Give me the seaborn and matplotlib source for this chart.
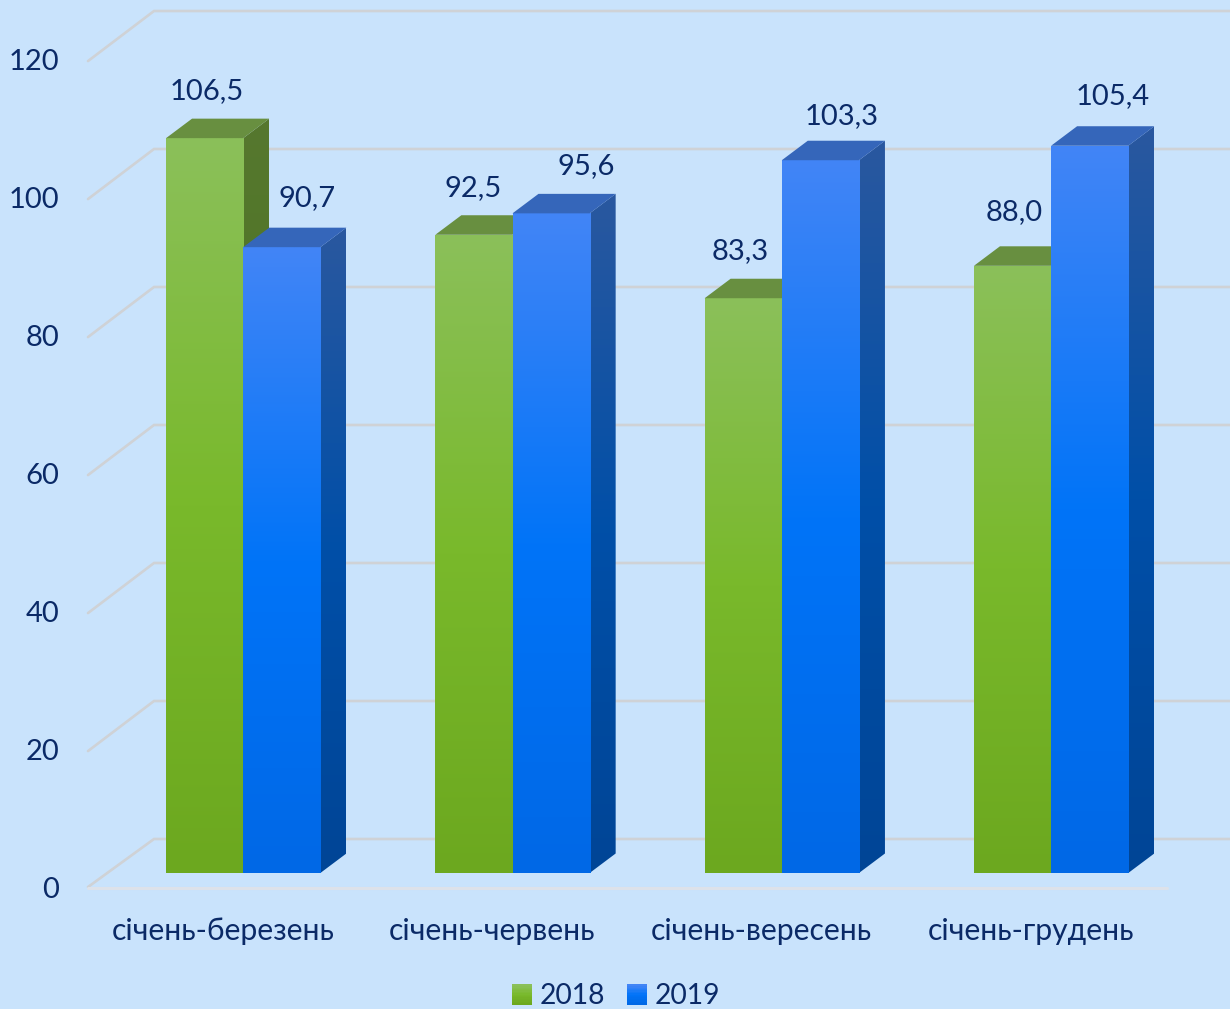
import numpy as np
import pandas as pd
import matplotlib
matplotlib.use("Agg")
import matplotlib.pyplot as plt
import seaborn as sns
from matplotlib.colors import LinearSegmentedColormap
from matplotlib.legend_handler import HandlerBase
from matplotlib.patches import Patch, Polygon, Rectangle
from matplotlib.transforms import ScaledTranslation

# DATA
periods = ["січень-березень", "січень-червень", "січень-вересень", "січень-грудень"]
years = ["2018", "2019"]
values_2018 = [106.5, 92.5, 83.3, 88.0]
values_2019 = [90.7, 95.6, 103.3, 105.4]
y_ticks = [0, 20, 40, 60, 80, 100, 120]

df = pd.DataFrame({
    "period": periods * 2,
    "year": [years[0]] * 4 + [years[1]] * 4,
    "value": values_2018 + values_2019,
})

# COLOURS
BG = "#C9E3FC"
TEXT = "#0B2A67"
GRID = "#CFD2D6"
FLOOR = "#DDE2EA"
front_cmaps = {
    "2018": LinearSegmentedColormap.from_list("g", ["#6CA81F", "#79B92B", "#8BC05A"]),
    "2019": LinearSegmentedColormap.from_list("b", ["#0068E6", "#0174F8", "#4285F6"]),
}
side_cmaps = {
    "2018": LinearSegmentedColormap.from_list("gs", ["#43691A", "#4C7420", "#56782F"]),
    "2019": LinearSegmentedColormap.from_list("bs", ["#004596", "#004FA8", "#2A589F"]),
}
top_colors = {"2018": "#688F40", "2019": "#3566BA"}

# LAYOUT (pixels of the 1230x1009 picture)
W, H = 1230, 1009
PX_CAT = 269.3
PX_UNIT = 6.9
base_px = 873
center_px = 243.2
left_px = center_px - PX_CAT / 2

sns.set_theme(style="white")
plt.rcParams["font.family"] = ["Lato", "Open Sans", "DejaVu Sans"]

fig = plt.figure(figsize=(W / 100, H / 100), dpi=100, facecolor=BG)
ax = fig.add_axes([left_px / W, 1 - base_px / H, 4 * PX_CAT / W, 120 * PX_UNIT / H])
ax.set_facecolor("none")

sns.barplot(data=df, x="period", y="value", hue="year", hue_order=years,
            palette=["#79B92B", "#0174F8"], width=0.573, gap=0, dodge=True,
            saturation=1, legend=False, ax=ax, zorder=5)

xlim, ylim = (-0.5, 3.5), (0, 120)
dx = 26 / PX_CAT
dy = 19.5 / PX_UNIT
v_grad = np.linspace(1, 0, 256).reshape(-1, 1)


def gradient(cmap, x0, x1, y0, y1, clip, z):
    im = ax.imshow(v_grad, cmap=cmap, vmin=0, vmax=1, extent=(x0, x1, y0, y1),
                   aspect="auto", zorder=z, interpolation="bilinear")
    im.set_clip_path(clip)
    im.set_clip_on(True)


# WALLS AND FLOOR
x_back = (154 - center_px) / PX_CAT
x_front = (88 - center_px) / PX_CAT
x_end = (1231 - center_px) / PX_CAT
x_floor_end = (1167 - center_px) / PX_CAT
off_back = (base_px - 839) / PX_UNIT
off_front = (base_px - 887) / PX_UNIT
for t in y_ticks:
    ax.plot([x_front, x_back, x_end], [t + off_front - 0.3 * (t > 0), t + off_back, t + off_back],
            color=GRID, lw=1.9, clip_on=False, zorder=1, solid_joinstyle="miter")
ax.plot([x_front, x_floor_end], [off_front - 0.2, off_front - 0.2], color=FLOOR, lw=2.2,
        clip_on=False, zorder=1)

# 3D BARS
for s, (year, bars) in enumerate(zip(years, ax.containers)):
    for g, bar in enumerate(bars):
        x0, x1 = bar.get_x(), bar.get_x() + bar.get_width()
        v = bar.get_height()
        z = 5 + s * 3 + g * 0.1
        bar.set_linewidth(0)
        bar.set_zorder(z)
        gradient(front_cmaps[year], x0, x1, 0, v, bar, z + 0.2)
        side = Polygon([(x1, 0), (x1 + dx, dy), (x1 + dx, v + dy), (x1, v)], closed=True,
                       facecolor="none", edgecolor="none", zorder=z + 0.1)
        ax.add_patch(side)
        gradient(side_cmaps[year], x1, x1 + dx, 0, v + dy, side, z + 0.1)
        ax.add_patch(Polygon([(x0, v), (x0 + dx, v + dy), (x1 + dx, v + dy), (x1, v)], closed=True,
                             facecolor=top_colors[year], edgecolor="none", zorder=z + 0.3))

# VALUE LABELS (offset from the bar centre, pixels)
label_offsets = {
    "2018": [(2, 47.5), (-1, 46.5), (-3, 47.5), (2, 54)],
    "2019": [(25, 49.5), (35, 47.5), (21, 44), (23, 50)],
}
for year, bars in zip(years, ax.containers):
    for bar, (ox, oy) in zip(bars, label_offsets[year]):
        v = bar.get_height()
        ax.annotate(f"{v:.1f}".replace(".", ","), (bar.get_x() + bar.get_width() / 2, v),
                    xytext=(ox * 0.72, oy * 0.72), textcoords="offset points",
                    ha="center", va="center", color=TEXT, fontsize=21,
                    zorder=20, annotation_clip=False)

# AXES
ax.set_xlim(xlim)
ax.set_ylim(ylim)
sns.despine(ax=ax, left=True, bottom=True)
ax.set_xlabel("")
ax.set_ylabel("")
ax.set_yticks(y_ticks)
ax.set_yticklabels([str(t) for t in y_ticks])
ax.tick_params(axis="y", length=0, pad=35.5, labelsize=21, labelcolor=TEXT)
ax.tick_params(axis="x", length=0, pad=32, labelsize=21.7, labelcolor=TEXT)
for lab in ax.get_yticklabels():
    lab.set_transform(lab.get_transform() + ScaledTranslation(0, -15 / 100, fig.dpi_scale_trans))
for lab in ax.get_xticklabels():
    lab.set_transform(lab.get_transform() + ScaledTranslation(-20 / 100, 0, fig.dpi_scale_trans))


# LEGEND
class GradientHandler(HandlerBase):
    def __init__(self, cmap):
        super().__init__()
        self.cmap = cmap

    def create_artists(self, legend, orig_handle, xdescent, ydescent, width, height, fontsize, trans):
        n = 14
        return [Rectangle((-xdescent, -ydescent + height * i / n), width, height / n + 0.3,
                          facecolor=self.cmap(i / (n - 1)), edgecolor="none", transform=trans)
                for i in range(n)]


handles = [Patch(label=y) for y in years]
fig.legend(handles=handles, labels=years, loc="center", bbox_to_anchor=(616 / W, 1 - 996.5 / H),
           ncol=2, frameon=False, fontsize=20.3, labelcolor=TEXT, handlelength=0.71, handleheight=0.71,
           handletextpad=0.25, columnspacing=0.8, borderpad=0, borderaxespad=0,
           handler_map={handles[i]: GradientHandler(front_cmaps[years[i]]) for i in range(2)})

fig.savefig("out.png", dpi=100, facecolor=BG)
